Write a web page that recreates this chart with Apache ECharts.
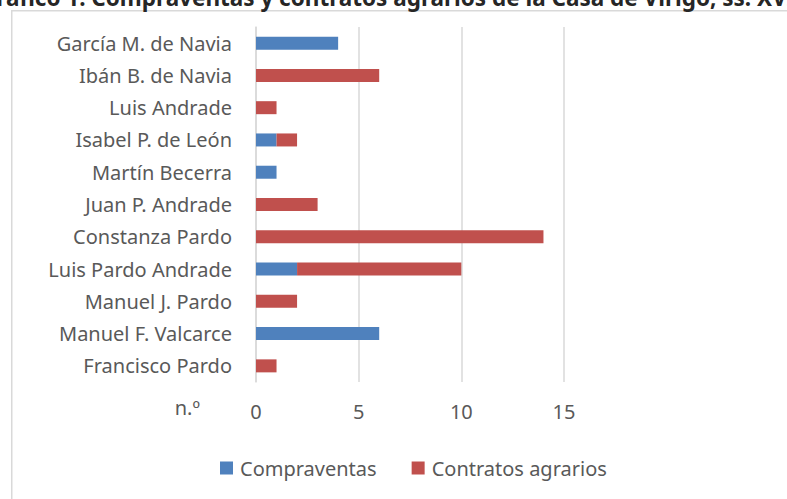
<!DOCTYPE html>
<html>
<head>
<meta charset="utf-8">
<script src="https://cdn.jsdelivr.net/npm/echarts@6/dist/echarts.min.js"></script>
<style>
  html, body { margin: 0; padding: 0; background: #fff; }
  #main { width: 787px; height: 499px; }
</style>
</head>
<body>
<div id="main"></div>
<script>
// data, top row first
const people = [
  "García M. de Navia", "Ibán B. de Navia", "Luis Andrade", "Isabel P. de León",
  "Martín Becerra", "Juan P. Andrade", "Constanza Pardo", "Luis Pardo Andrade",
  "Manuel J. Pardo", "Manuel F. Valcarce", "Francisco Pardo"
];
const compraventas = [4, 0, 0, 1, 1, 0, 0, 2, 0, 6, 0];
const contratos = [0, 6, 1, 1, 0, 3, 14, 8, 2, 0, 1];
const seriesNames = ["Compraventas", "Contratos agrarios"];
const titleText = "Gráfico 1. Compraventas y contratos agrarios de la Casa de Virigo, ss. XVI";

const font = "'Noto Sans', 'Open Sans', sans-serif";
const grey = "#595959";

var myChart = echarts.init(document.getElementById('main'), null, {renderer: 'svg'});
myChart.setOption({
  animation: false,
  textStyle: { fontFamily: font },
  graphic: [
    {
      type: 'rect', left: 11, top: 10, z: -1,
      shape: { width: 800, height: 520 },
      style: { fill: '#fff', stroke: '#d9d9d9', lineWidth: 1.5 }
    },
    {
      type: 'text', x: -20, y: 9,
      style: {
        text: titleText, font: 'bold 22.5px ' + font, fill: '#262626',
        textAlign: 'left', textVerticalAlign: 'bottom'
      }
    }
  ],
  grid: { left: 256, right: 223, top: 27, bottom: 117, containLabel: false },
  legend: {
    data: seriesNames,
    left: 215, top: 453,
    icon: 'rect', itemWidth: 13, itemHeight: 13, itemGap: 35,
    textStyle: { color: grey, fontSize: 20, fontFamily: font, padding: [0, 0, 0, 2] }
  },
  xAxis: {
    type: 'value', min: 0, max: 15, interval: 5,
    name: 'n.º', nameLocation: 'start', nameGap: 56,
    nameTextStyle: { color: grey, fontSize: 20, verticalAlign: 'top', padding: [15, 0, 0, 0] },
    axisLine: { show: false }, axisTick: { show: false },
    axisLabel: { color: grey, fontSize: 20, margin: 19 },
    splitLine: { lineStyle: { color: '#d9d9d9', width: 1.5 } }
  },
  yAxis: {
    type: 'category', data: people, inverse: true,
    axisLine: { show: true, lineStyle: { color: '#d9d9d9', width: 1.5 } },
    axisTick: { show: false },
    axisLabel: { color: grey, fontSize: 20, margin: 24 }
  },
  series: [
    { name: seriesNames[0], type: 'bar', stack: 'n', data: compraventas, barWidth: 13,
      itemStyle: { color: '#4f81bd' } },
    { name: seriesNames[1], type: 'bar', stack: 'n', data: contratos, barWidth: 13,
      itemStyle: { color: '#c0504d' } }
  ]
});
</script>
</body>
</html>
